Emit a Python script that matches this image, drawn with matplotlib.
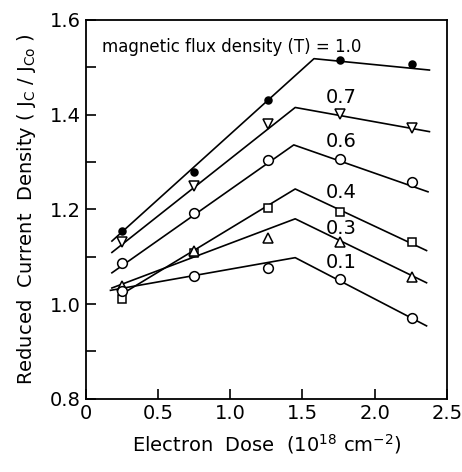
import matplotlib
matplotlib.use("Agg")
import matplotlib.pyplot as plt
from matplotlib.ticker import MultipleLocator

plt.rcParams['font.family'] = ['DejaVu Sans']

# Measured points (electron dose, reduced current density)
dose = [0.25, 0.75, 1.26, 1.76, 2.26]
labels = ["1.0", "0.7", "0.6", "0.4", "0.3", "0.1"]
jc_10 = [1.155, 1.279, 1.431, 1.516, 1.507]
jc_07 = [1.130, 1.250, 1.380, 1.401, 1.372]
jc_06 = [1.087, 1.193, 1.304, 1.307, 1.258]
jc_04 = [1.010, 1.108, 1.203, 1.195, 1.132]
jc_03 = [1.038, 1.111, 1.140, 1.130, 1.057]
jc_01 = [1.028, 1.060, 1.077, 1.053, 0.971]

# Fitted broken lines (start, peak, end)
fit_x_10 = [0.18, 1.58, 2.38]; fit_y_10 = [1.133, 1.518, 1.494]
fit_x_07 = [0.18, 1.45, 2.38]; fit_y_07 = [1.109, 1.415, 1.364]
fit_x_06 = [0.18, 1.44, 2.37]; fit_y_06 = [1.066, 1.336, 1.237]
fit_x_04 = [0.27, 1.45, 2.36]; fit_y_04 = [1.025, 1.243, 1.113]
fit_x_03 = [0.18, 1.45, 2.36]; fit_y_03 = [1.034, 1.180, 1.045]
fit_x_01 = [0.17, 1.45, 2.36]; fit_y_01 = [1.029, 1.098, 0.954]

label_x = [1.77, 1.77, 1.77, 1.77, 1.77]
label_y = [1.435, 1.343, 1.235, 1.159, 1.087]

fig = plt.figure(figsize=(4.62, 4.72), dpi=100)
ax = fig.add_axes([0.186, 0.155, 0.781, 0.803])

series = [
    (jc_10, fit_x_10, fit_y_10, dict(marker='o', mfc='black', ms=5)),
    (jc_07, fit_x_07, fit_y_07, dict(marker='v', mfc='white', ms=7)),
    (jc_06, fit_x_06, fit_y_06, dict(marker='o', mfc='white', ms=7)),
    (jc_04, fit_x_04, fit_y_04, dict(marker='s', mfc='white', ms=6)),
    (jc_03, fit_x_03, fit_y_03, dict(marker='^', mfc='white', ms=7)),
    (jc_01, fit_x_01, fit_y_01, dict(marker='o', mfc='white', ms=7)),
]
for ys, fx, fy, mk in series:
    ax.plot(fx, fy, color='black', lw=1.2, zorder=2)
    ax.plot(dose, ys, linestyle='none', color='black', mec='black', mew=1.1, zorder=3, **mk)

ax.text(0.11, 1.543, "magnetic flux density (T) = " + labels[0], fontsize=12,
        ha='left', va='center')
for t, lx, ly in zip(labels[1:], label_x, label_y):
    ax.text(lx, ly, t, fontsize=14, ha='center', va='center')

ax.set_xlim(0, 2.5)
ax.set_ylim(0.8, 1.6)
ax.yaxis.set_minor_locator(MultipleLocator(0.1))
ax.set_xticks([0, 0.5, 1.0, 1.5, 2.0, 2.5])
ax.set_xticklabels(["0", "0.5", "1.0", "1.5", "2.0", "2.5"])
ax.set_yticks([0.8, 1.0, 1.2, 1.4, 1.6])
ax.set_yticklabels(["0.8", "1.0", "1.2", "1.4", "1.6"])
ax.tick_params(axis='both', which='both', direction='in', labelsize=14, width=1.2)
ax.tick_params(axis='both', which='major', length=7, pad=4)
ax.tick_params(axis='y', which='minor', length=7)
for s in ax.spines.values():
    s.set_linewidth(1.3)

ax.set_xlabel(r"Electron  Dose  (10$^{18}$ cm$^{-2}$)", fontsize=14, labelpad=6)
ax.set_ylabel(r"Reduced  Current  Density ( J$_{\mathrm{C}}$ / J$_{\mathrm{Co}}$ )",
              fontsize=14, labelpad=8)

fig.savefig("out.png", dpi=100)
